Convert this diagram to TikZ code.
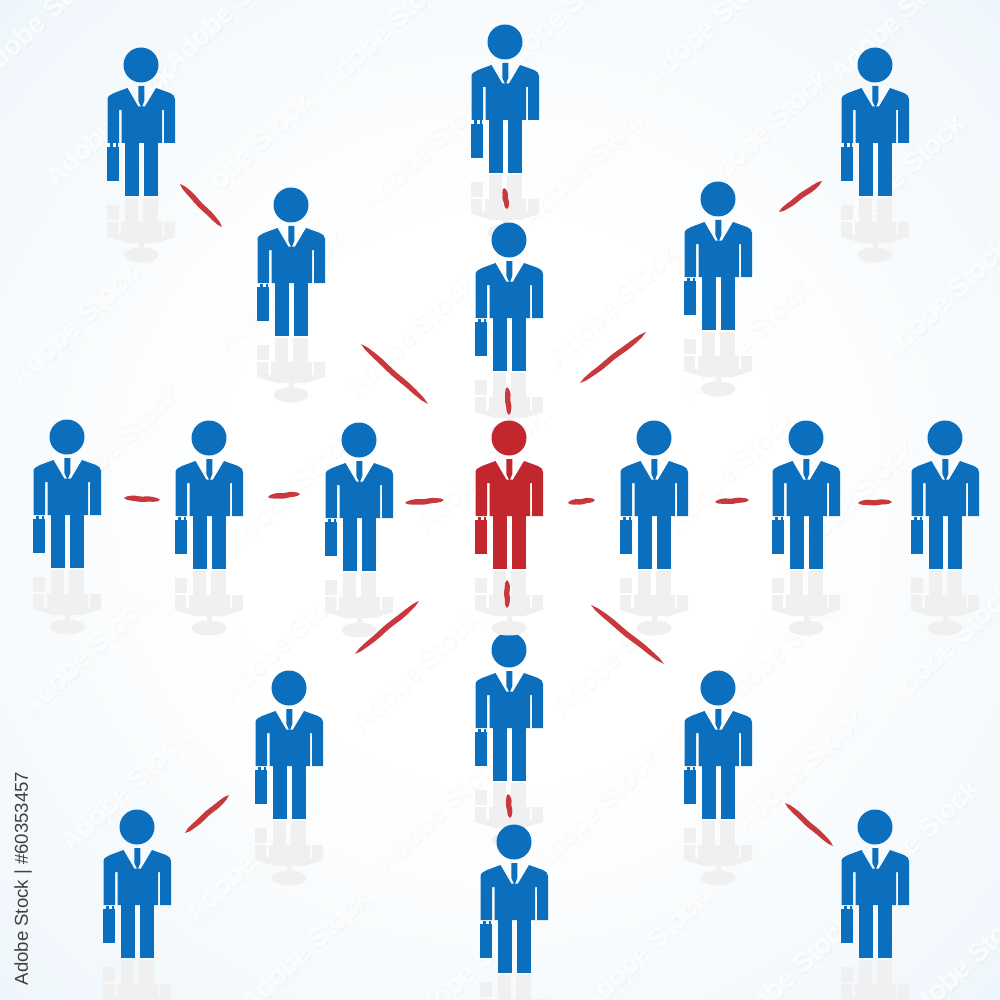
\documentclass[tikz,border=0pt]{standalone}
\usepackage{fontspec}
\setmainfont{Liberation Sans}
\usetikzlibrary{calc}
\definecolor{personblue}{HTML}{0B6FBE}
\definecolor{personred}{HTML}{C1272D}
\definecolor{markred}{HTML}{C8383C}
\definecolor{mirrorgrey}{HTML}{F0F0F0}
\definecolor{bgedge}{HTML}{EFF6FB}
\definecolor{labelgrey}{HTML}{404040}
\newcommand{\mk}[3]{($(#1a)!#2!(#1b)!#3!90:(#1b)$)}
\tikzset{
  pics/person/.style={code={
    \coordinate (-head) at (0,0);
    % reflection
    \fill[mirrorgrey] (0,190) ellipse (17.5 and 7.5);
    \fill[mirrorgrey] (-34,140) rectangle (-22.5,155);
    \fill[mirrorgrey] (-16,133) rectangle (-3,158);
    \fill[mirrorgrey] (2,133) rectangle (17,158);
    \fill[mirrorgrey] (-34,157) -- (-23,157) -- (-23,170) -- (-20,170) -- (-20,157) -- (21,157) -- (21,170) -- (23,170) -- (23,157) -- (34,157) -- (34,172) -- (15,178) -- (3,178) -- (3,188) -- (-2,188) -- (-2,178) -- (-14,178) -- (-34,172) -- cycle;
    % figure
    \fill[#1] (0,0) circle (17.5);
    \fill[#1] (-33.5,78) -- (-33.5,34) .. controls (-33.5,31) and (-30,29.5) .. (-27,28) -- (-13.5,23) -- (-2.7,41.5) -- (4,41.5) -- (15,23) -- (29,28) .. controls (32,29.5) and (34,31) .. (34,34) -- (34,78) -- (23,78) -- (23,45) -- (21,45) -- (21,78) -- (-19.5,78) -- (-19.5,45) -- (-22,45) -- (-22,78) -- cycle;
    \fill[#1] (-2.7,21) -- (3.3,21) -- (3.3,36) -- (0.6,43) -- (-2.7,36) -- cycle;
    \fill[#1] (-16,77) rectangle (-2,131);
    \fill[#1] (3.3,77) rectangle (17.3,131);
    \fill[#1] (-34.5,82) rectangle (-22,116);
    \fill[#1] (-31,78.5) rectangle (-28,83);
    \fill[#1] (-25.5,78.5) rectangle (-23,83);
  }},
  markstroke/.style={fill=markred},
  watermark/.style={white,opacity=.75,font=\bfseries\fontsize{13.5}{14}\selectfont,rotate=43,inner sep=0pt},
  watershadow/.style={black,opacity=.02,font=\bfseries\fontsize{13.5}{14}\selectfont,rotate=43,inner sep=0pt},
}
\begin{document}
\begin{tikzpicture}[x=0.5pt,y=-0.5pt]
\useasboundingbox (0,0) rectangle (1000,1000);
% background glow, white in the middle and pale blue at the corners
\begin{scope}
\clip (0,0) rectangle (1000,1000);
\fill[bgedge] (0,0) rectangle (1000,1000);
\foreach \r in {720,710,...,270}{
  \pgfmathsetmacro{\p}{max(0,min(100,(\r-280)/4.3))}
  \fill[bgedge!\p!white] (500,500) circle (\r);
}
\end{scope}
% watermarks
\foreach \x/\y [count=\i] in {40/20,228/10,385/30,560/15,710/25,895/20,110/125,248/153,425/150,585/165,765/130,900/175,75/325,280/290,410/335,612/305,745/340,945/300,115/445,290/490,480/470,730/470,850/500,85/655,285/640,415/670,615/655,780/650,950/645,125/790,250/860,440/810,595/810,800/770,915/840,305/950,470/970,645/950,790/975,965/965}{
  \node[watershadow] (ws\i) at (\x+1.5,\y+1.5) {Adobe Stock};
  \node[watermark] (wm\i) at (\x,\y) {Adobe Stock};
}
% people
\foreach \n/\x/\y in {a/141/65,b/505/42,c/875/65,d/291/205,e/509/240,f/718/199,g/67/437,h/209/438,j/359/440,k/654/438,l/806/438,m/945/438,n/289/688,o/509/650,p/718/688,q/137/827,r/514/842,s/875/827}{
  \pic (\n) at (\x,\y) {person=personblue};
}
\pic (centre) at (509,438) {person=personred};
% strokes
\foreach \i/\ax/\ay/\bx/\by in {1/180/184/222/227,2/504/188/507/209,3/822/181/779/212,4/361/344/428/404,5/507/387/509/415,6/646/332/580/383,7/124/498/160/500,8/268/497/300/494,9/405/503/444/500,10/568/503/595/500,11/715/502/749/500,12/858/503/892/502,13/507/580/507/608,14/419/601/355/654,15/591/605/664/664,16/508/794/510/818,17/229/795/185/833,18/785/803/833/846}{
  \coordinate (s\i a) at (\ax,\ay);
  \coordinate (s\i b) at (\bx,\by);
  \fill[markstroke] (s\i a) -- \mk{s\i}{.08}{.9pt} -- \mk{s\i}{.2}{1.4pt} -- \mk{s\i}{.3}{1.5pt} -- \mk{s\i}{.4}{1.3pt} -- \mk{s\i}{.5}{1.2pt} -- \mk{s\i}{.6}{1.4pt} -- \mk{s\i}{.7}{1.5pt} -- \mk{s\i}{.8}{1.3pt} -- \mk{s\i}{.92}{.9pt} -- (s\i b) -- \mk{s\i}{.92}{-.8pt} -- \mk{s\i}{.8}{-1.1pt} -- \mk{s\i}{.7}{-1.1pt} -- \mk{s\i}{.6}{-1.3pt} -- \mk{s\i}{.5}{-1.5pt} -- \mk{s\i}{.4}{-1.4pt} -- \mk{s\i}{.3}{-1.2pt} -- \mk{s\i}{.2}{-1.1pt} -- \mk{s\i}{.08}{-.8pt} -- cycle;
}
\node[rotate=90,text=labelgrey,font=\fontsize{9.3}{11}\selectfont,inner sep=0pt] (credit) at (23,878.5) {Adobe Stock | \#60353457};
\end{tikzpicture}
\end{document}
